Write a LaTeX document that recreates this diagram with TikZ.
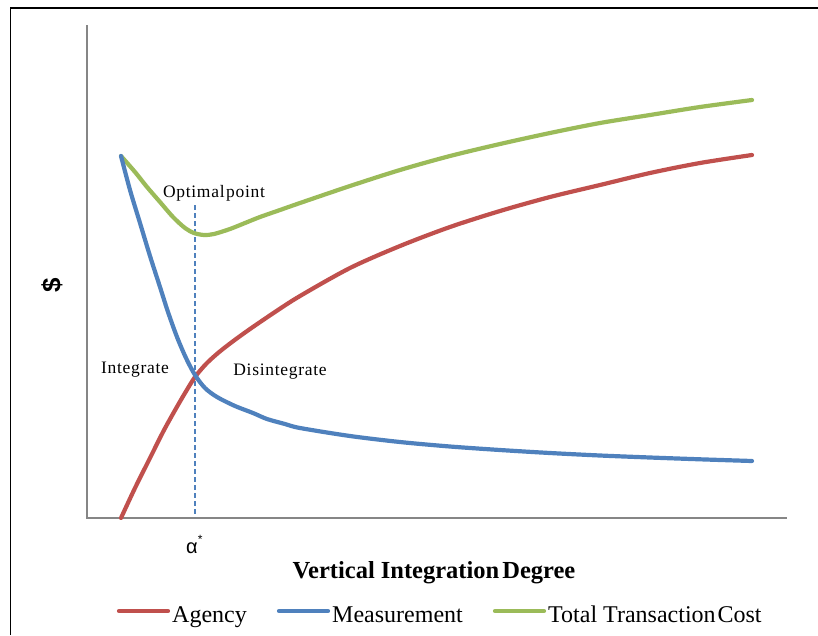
\documentclass[tikz,border=0pt]{standalone}
\usepackage{fontspec}
\setmainfont{Liberation Serif}
\newfontfamily\sansf{Liberation Sans}
\newfontfamily\labelfont{Liberation Serif}[LetterSpace=4]
\begin{document}
\begin{tikzpicture}[x=1pt,y=-1pt,
  curve/.style={line width=4.2pt,line cap=round,line join=round},
  agency/.style={curve,color=agencyred},
  measure/.style={curve,color=measureblue},
  total/.style={curve,color=totalgreen},
  axisline/.style={line width=2.2pt,color=axisgray},
  lbl/.style={inner sep=0pt,font=\fontsize{17.5}{20}\labelfont},
  legendtxt/.style={inner sep=0pt,anchor=base west,font=\fontsize{24}{28}\selectfont},
]
\definecolor{agencyred}{HTML}{C0504D}
\definecolor{measureblue}{HTML}{4F81BD}
\definecolor{totalgreen}{HTML}{9BBB59}
\definecolor{axisgray}{HTML}{868686}
\useasboundingbox (0,0) rectangle (818,635);

% outer frame (left and top edges)
\draw[line width=1.4pt] (10.5,635) -- (10.5,8) -- (818,8);

% axes
\draw[axisline] (87,25) -- (87,518) -- (787,518);

% optimal point marker
\draw[measureblue,line width=1.1pt,dash pattern=on 5pt off 3pt] (195,205) -- (195,517);

% curves
\draw[total] plot[smooth,tension=0.5] coordinates {
  (121,156) (135,172) (147,187) (160,202) (173,217) (185,228) (194,233)
  (204,235) (214,234) (230,229) (245,223) (260,217) (280,210) (300,203)
  (350,186) (400,170) (450,156) (500,144) (550,133) (600,123) (650,115)
  (700,107) (752,100)};
\draw[agency] plot[smooth,tension=0.5] coordinates {
  (121,518) (135,488) (150,458) (163,432) (174,412) (185,393) (195,377)
  (206,364) (218,353) (232,342) (250,329) (275,312) (300,296) (350,268)
  (400,246) (450,227) (500,211) (550,197) (600,185) (650,173) (700,163)
  (752,155)};
\draw[measure] plot[smooth,tension=0.5] coordinates {
  (121,156) (130,190) (140,223) (150,256) (160,287) (168,312) (177,337)
  (186,358) (195,375) (205,388) (217,397) (235,406) (253,413) (267,419)
  (285,424) (300,428) (350,436) (400,442) (450,446.5) (500,450) (550,453)
  (600,455.5) (650,457.5) (700,459.3) (752,461)};

% in-plot labels
\node[lbl,anchor=base] (opt) at (214,197) {Optimal\hspace{1.5pt}point};
\node[lbl,anchor=base] (integ) at (135,373) {Integrate};
\node[lbl,anchor=base] (disint) at (280,375) {Disintegrate};

% axis labels
\node[inner sep=0pt,rotate=90,font=\fontsize{26}{28}\sansf\bfseries] (ylab) at (52,285) {\$};
\node[inner sep=0pt,anchor=base west,font=\fontsize{20}{22}\sansf] (alpha) at (186,553)
  {α\raisebox{0.5em}{\fontsize{12}{12}\selectfont *}};
\node[inner sep=0pt,anchor=base,font=\fontsize{24.5}{28}\selectfont\bfseries] (xlab) at (434,578)
  {Vertical Integration\hspace{3pt}Degree};

% legend
\node[legendtxt] (la) at (172,622) {Agency};
\node[legendtxt] (lm) at (332,622) {Measurement};
\node[legendtxt] (lt) at (548,622) {Total Transaction\hspace{2pt}Cost};
\draw[agency] (119,611) -- (168,611);
\draw[measure] (279,611) -- (328,611);
\draw[total] (495,611) -- (544,611);
\end{tikzpicture}
\end{document}
